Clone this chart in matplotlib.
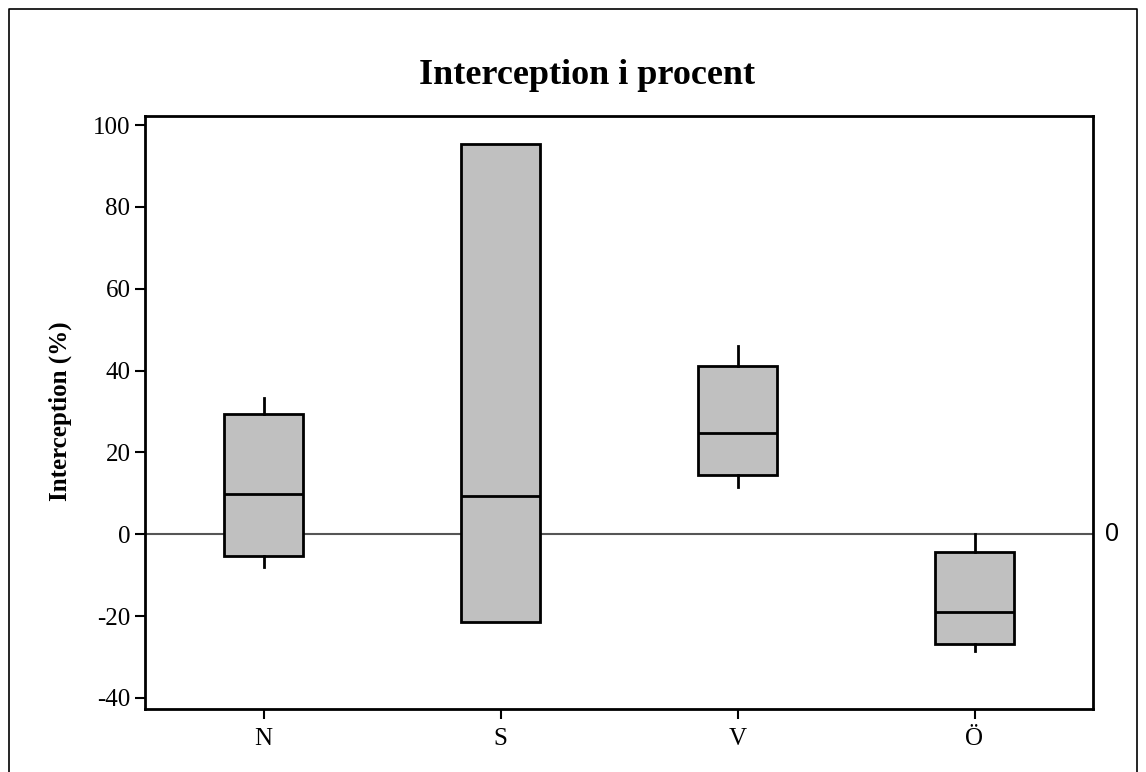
import matplotlib
matplotlib.use("Agg")
import matplotlib.pyplot as plt
from matplotlib.lines import Line2D

categories = ["N", "S", "V", "Ö"]
whislo = [-8.0, -21.5, 11.6, -28.5]
q1 = [-5.3, -21.5, 14.6, -26.8]
med = [9.75, 9.3, 24.8, -19.1]
q3 = [29.4, 95.3, 41.0, -4.3]
whishi = [33.4, 95.3, 46.1, 0.0]
yticks = [-40, -20, 0, 20, 40, 60, 80, 100]

W, H = 1146, 772
fig = plt.figure(figsize=(W/100, H/100), dpi=100)
ax = fig.add_axes([145/W, 1-709/H, (1093-145)/W, (709-116)/H])

stats = []
for i, c in enumerate(categories):
    stats.append(dict(label=c, whislo=whislo[i], q1=q1[i], med=med[i],
                      q3=q3[i], whishi=whishi[i], fliers=[]))

ax.axhline(0, color="#555555", lw=1.5, zorder=1)
ax.bxp(stats, positions=range(1, len(categories)+1), widths=0.335,
       patch_artist=True, showcaps=False,
       boxprops=dict(facecolor="#c0c0c0", edgecolor="black", linewidth=2),
       medianprops=dict(color="black", linewidth=2),
       whiskerprops=dict(color="black", linewidth=2), zorder=2)

ax.set_xlim(0.5, len(categories)+0.5)
ax.set_ylim(-42.7, 102.2)
ax.set_yticks(yticks)
ax.set_yticklabels([str(v) for v in yticks])
ax.set_xticks(range(1, len(categories)+1))
ax.set_xticklabels(categories)
for sp in ax.spines.values():
    sp.set_linewidth(2)
ax.tick_params(axis="both", direction="out", length=7.5, width=1.5,
               labelsize=18)
ax.tick_params(axis="y", pad=3)
ax.tick_params(axis="x", pad=6)
for lab in ax.get_xticklabels() + ax.get_yticklabels():
    lab.set_fontfamily("Liberation Serif")

fig.text(60/W, 1-411/H, "Interception (%)", rotation=90, fontsize=18,
         fontweight="bold", fontfamily="Liberation Serif",
         ha="center", va="center")
fig.text(587/W, 1-75/H, "Interception i procent", fontsize=26,
         fontweight="bold", fontfamily="Liberation Serif",
         ha="center", va="center")

ax.text(1.0127, 0, "0", transform=ax.get_yaxis_transform(), fontsize=18,
        fontfamily="Liberation Sans", va="center", ha="left")

# outer frame (left, top, right)
fx = [9/W, 9/W, 1137/W, 1137/W]
fy = [0, 1-9/H, 1-9/H, 0]
fig.add_artist(Line2D(fx, fy, transform=fig.transFigure, color="black", lw=1.2))

fig.savefig("out.png", dpi=100)
